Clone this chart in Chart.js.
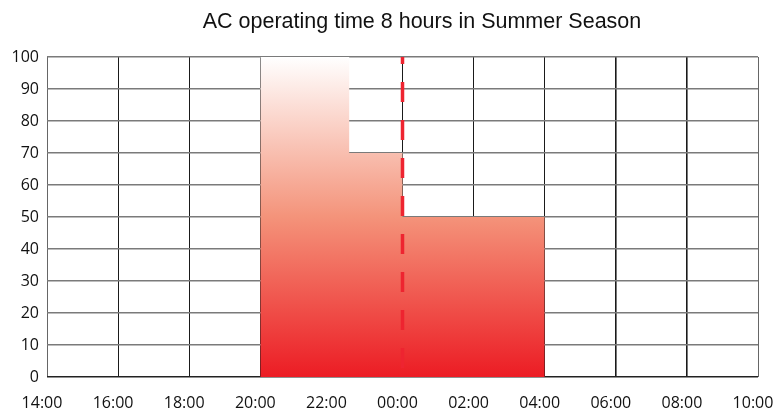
<!DOCTYPE html>
<html>
<head>
<meta charset="utf-8">
<script src="https://cdn.jsdelivr.net/npm/chart.js@4/dist/chart.umd.min.js"></script>
<style>
  html, body { margin: 0; padding: 0; background: #fff; }
  #wrap { width: 777px; height: 414px; position: relative; }
</style>
</head>
<body>
<div id="wrap"><canvas id="c" width="777" height="414"></canvas></div>
<script>
// ---- data ----
const chartTitle = 'AC operating time 8 hours in Summer Season';
const timeLabels = ['14:00','16:00','18:00','20:00','22:00','00:00','02:00','04:00','06:00','08:00','10:00'];
const stepTimes  = ['20:00','22:30','00:00','04:00'];
const stepLevels = [100, 70, 50, 50];
const markerTime = '00:00';
const yMin = 0, yMax = 100, yStep = 10;

// hours elapsed since the first label (14:00), wrapping past midnight
function toHours(t) {
  const [h, m] = t.split(':').map(Number);
  const start = Number(timeLabels[0].split(':')[0]);
  let v = h + m / 60 - start;
  if (v < 0) v += 24;
  return v;
}
const xMax = toHours(timeLabels[timeLabels.length - 1]);
const xStep = toHours(timeLabels[1]);

const stepData = stepTimes.map((t, i) => ({ x: toHours(t), y: stepLevels[i] }));
const markerData = [{ x: toHours(markerTime), y: yMax }, { x: toHours(markerTime), y: yMin }];

function fillGradient(ctx) {
  const ca = ctx.chart.chartArea;
  if (!ca) return '#f4937a';
  const g = ctx.chart.ctx.createLinearGradient(0, ca.top, 0, ca.bottom);
  g.addColorStop(0, '#ffffff');
  g.addColorStop(0.5, '#f4937a');
  g.addColorStop(1, '#ec1c24');
  return g;
}

const titlePlugin = {
  id: 'posTitle',
  afterDraw(chart) {
    const c = chart.ctx;
    c.save();
    c.font = '21.5px "Liberation Sans", Arial, sans-serif';
    c.fillStyle = '#111';
    c.textAlign = 'center';
    c.textBaseline = 'alphabetic';
    c.fillText(chartTitle, 422, 28);
    c.restore();
  }
};

new Chart(document.getElementById('c'), {
  type: 'line',
  data: {
    datasets: [
      {
        label: 'operating',
        data: stepData,
        stepped: 'before',
        fill: 'origin',
        backgroundColor: fillGradient,
        borderColor: 'rgba(0,0,0,0)',
        borderWidth: 0,
        pointRadius: 0,
        order: 2
      },
      {
        label: 'midnight',
        data: markerData,
        borderColor: '#ee2430',
        borderWidth: 3.5,
        borderDash: [20, 18],
        borderDashOffset: 13,
        pointRadius: 0,
        fill: false,
        order: 1
      }
    ]
  },
  options: {
    responsive: false,
    animation: false,
    events: [],
    layout: { padding: { top: 57, right: 19, left: 0, bottom: 0 } },
    plugins: {
      legend: { display: false },
      title: { display: false },
      tooltip: { enabled: false }
    },
    scales: {
      x: {
        type: 'linear',
        min: 0,
        max: xMax,
        border: { display: false },
        grid: {
          drawTicks: false,
          color: (c) => (c.index === timeLabels.length - 1 || c.index === 0) ? '#666' : '#1a1a1a',
          lineWidth: (c) => (c.index === 8 || c.index === 9) ? 1.6 : 1
        },
        ticks: {
          stepSize: xStep,
          autoSkip: false,
          maxRotation: 0,
          padding: 17,
          labelOffset: -5,
          color: '#111',
          font: { family: '"Open Sans", sans-serif', size: 16 },
          callback: (v) => timeLabels[Math.round(v / xStep)]
        },
        afterFit: (s) => { s.height = 37; s.paddingLeft = 0; s.paddingRight = 0; }
      },
      y: {
        min: yMin,
        max: yMax,
        border: { display: false },
        grid: {
          drawTicks: false,
          color: (c) => c.index === 0 ? '#222' : '#7a7a7a',
          lineWidth: 1.5
        },
        ticks: {
          stepSize: yStep,
          padding: 8,
          color: '#111',
          font: { family: '"Open Sans", sans-serif', size: 16 }
        },
        afterFit: (s) => { s.width = 47; s.paddingTop = 0; s.paddingBottom = 0; }
      }
    }
  },
  plugins: [titlePlugin]
});
</script>
</body>
</html>
